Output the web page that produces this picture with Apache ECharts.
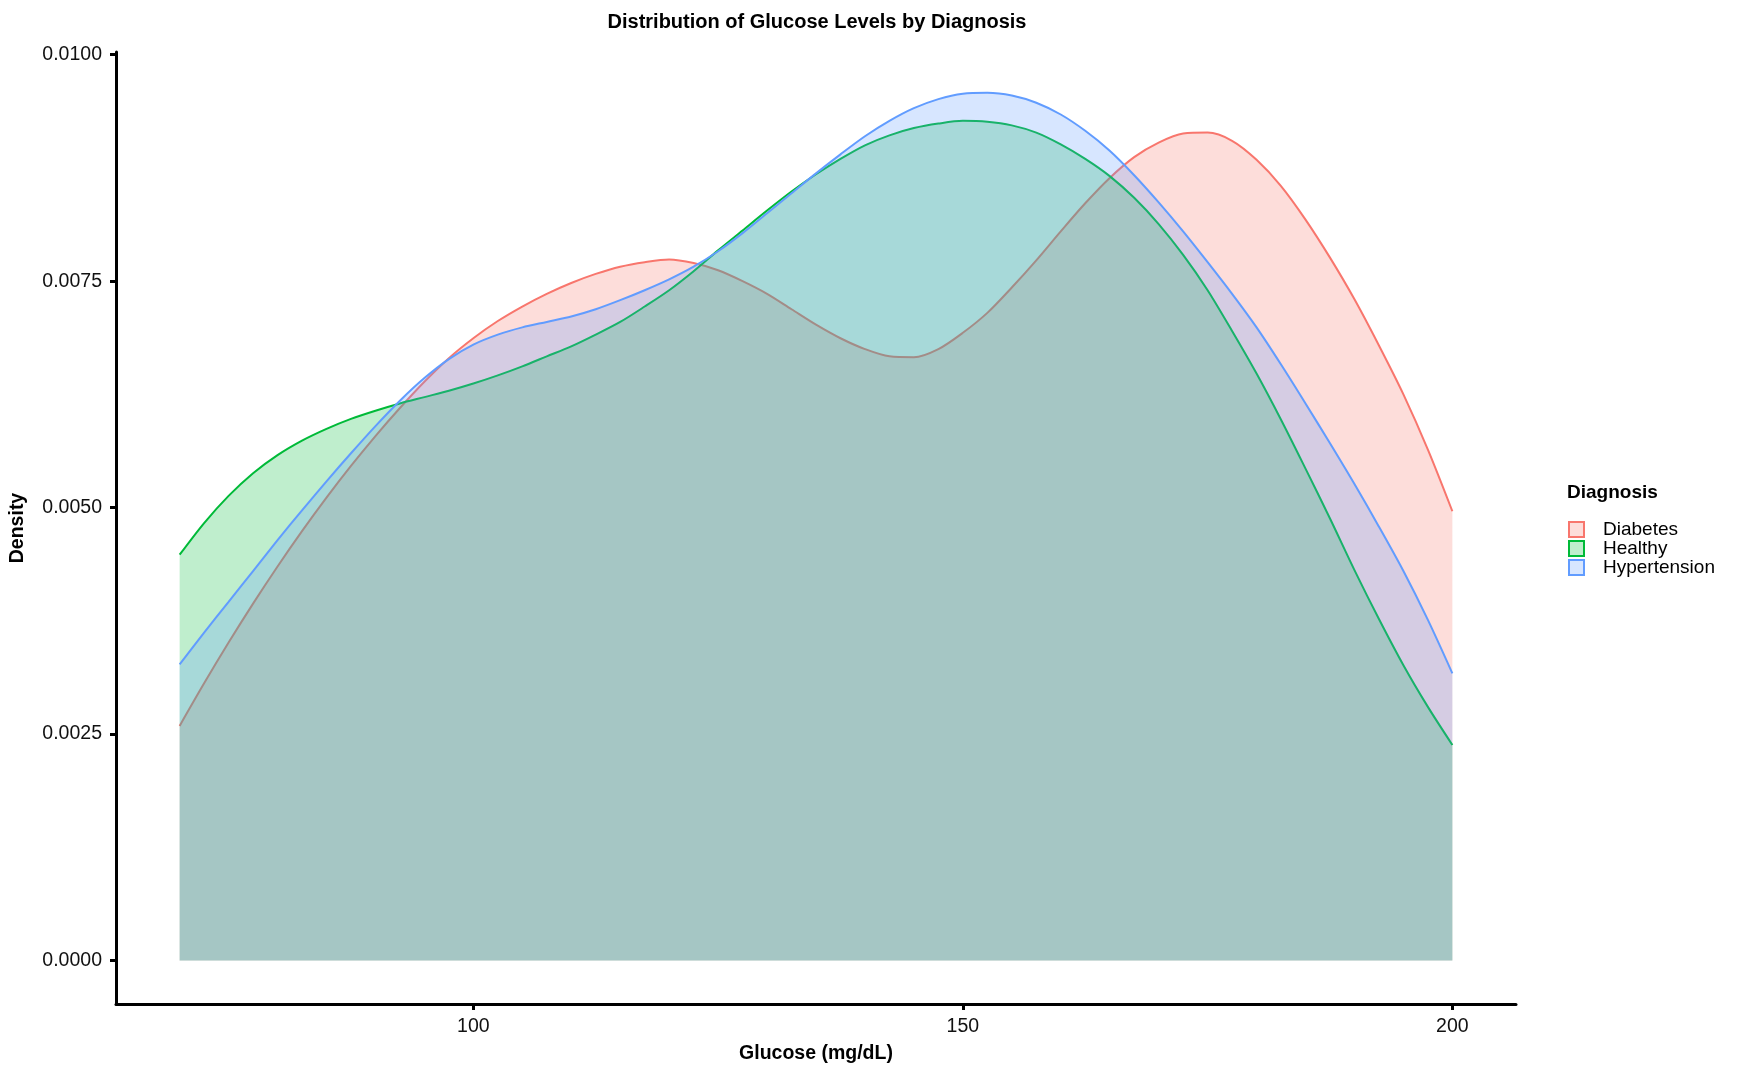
<!DOCTYPE html>
<html>
<head>
<meta charset="utf-8">
<script src="https://cdn.jsdelivr.net/npm/echarts@6/dist/echarts.min.js"></script>
<style>
  html, body { margin: 0; padding: 0; background: #fff; }
  #chart { width: 1747px; height: 1080px; }
</style>
</head>
<body>
<div id="chart"></div>
<script>
const glucose = [70, 72.5, 75, 77.5, 80, 82.5, 85, 87.5, 90, 92.5, 95, 97.5, 100, 102.5, 105, 107.5,
                 110, 112.5, 115, 117.5, 120, 122.5, 125, 127.5, 130, 132.5, 135, 137.5, 140, 142.5,
                 145, 147.5, 150, 152.5, 155, 157.5, 160, 162.5, 165, 167.5, 170, 172.5, 175, 177.5,
                 180, 182.5, 185, 187.5, 190, 192.5, 195, 197.5, 200]

const diabetes = [0.00259, 0.00306, 0.00351, 0.00394, 0.00435, 0.00474, 0.00511, 0.00546, 0.00579,
                  0.00610, 0.00639, 0.00665, 0.00687, 0.00706, 0.00722, 0.00736, 0.00748, 0.00758,
                  0.00766, 0.00771, 0.00774, 0.00770, 0.00762, 0.00750, 0.00736, 0.00719, 0.00702,
                  0.00687, 0.00675, 0.00667, 0.00666, 0.00675, 0.00693, 0.00715, 0.00743, 0.00773,
                  0.00805, 0.00836, 0.00864, 0.00887, 0.00903, 0.00913, 0.00914, 0.00905, 0.00884,
                  0.00855, 0.00818, 0.00776, 0.00730, 0.00679, 0.00625, 0.00564, 0.00496]

const healthy = [0.00448, 0.00483, 0.00513, 0.00538, 0.00558, 0.00574, 0.00587, 0.00598, 0.00607,
                 0.00615, 0.00622, 0.00629, 0.00637, 0.00646, 0.00656, 0.00667, 0.00678, 0.00691,
                 0.00705, 0.00722, 0.00740, 0.00761, 0.00784, 0.00806, 0.00828, 0.00849, 0.00868,
                 0.00885, 0.00900, 0.00911, 0.00919, 0.00924, 0.00927, 0.00926, 0.00922, 0.00914,
                 0.00901, 0.00885, 0.00866, 0.00842, 0.00813, 0.00779, 0.00740, 0.00695, 0.00648,
                 0.00597, 0.00543, 0.00488, 0.00431, 0.00377, 0.00326, 0.00280, 0.00238]

const hypertension = [0.00327, 0.00362, 0.00396, 0.00430, 0.00464, 0.00497, 0.00529, 0.00560, 0.00590,
                      0.00618, 0.00643, 0.00664, 0.00680, 0.00691, 0.00699, 0.00705, 0.00711, 0.00719,
                      0.00729, 0.00740, 0.00752, 0.00766, 0.00783, 0.00803, 0.00825, 0.00847, 0.00869,
                      0.00890, 0.00910, 0.00927, 0.00941, 0.00951, 0.00957, 0.00958, 0.00955, 0.00947,
                      0.00934, 0.00916, 0.00894, 0.00867, 0.00837, 0.00805, 0.00771, 0.00736, 0.00699,
                      0.00658, 0.00615, 0.00571, 0.00526, 0.00479, 0.00430, 0.00376, 0.00317]

const groups = ['Diabetes', 'Healthy', 'Hypertension']
const xTicks = [100, 150, 200]
const yTicks = [0, 0.0025, 0.005, 0.0075, 0.01]

const colors = ['#F8766D', '#00BA38', '#619CFF']
const fills = ['rgba(248,118,109,0.25)', 'rgba(0,186,56,0.25)', 'rgba(97,156,255,0.25)']
const FONT = "'Liberation Sans', Arial, sans-serif"

const pairs = (ys) => glucose.map((x, i) => [x, ys[i]])
const values = [diabetes, healthy, hypertension]

let chart = echarts.init(document.getElementById('chart'))

chart.setOption({
    animation: false,
    backgroundColor: '#fff',
    textStyle: { fontFamily: FONT },
    title: [{
        text: 'Distribution of Glucose Levels by Diagnosis',
        left: 812,
        top: 7,
        textAlign: 'center',
        textStyle: { fontFamily: FONT, fontSize: 20, fontWeight: 'bold', color: '#000' }
    }, {
        text: 'Diagnosis',
        left: 1562,
        top: 478,
        textStyle: { fontFamily: FONT, fontSize: 19, fontWeight: 'bold', color: '#000' }
    }],
    legend: {
        orient: 'vertical',
        left: 1563,
        top: 515,
        icon: 'rect',
        itemWidth: 15,
        itemHeight: 15,
        itemGap: 0,
        selectedMode: false,
        textStyle: { fontFamily: FONT, fontSize: 19, color: '#000', lineHeight: 15, padding: [0, 0, 0, 14] },
        data: groups.map((g, i) => ({
            name: g,
            itemStyle: { color: fills[i], borderColor: colors[i], borderWidth: 2 }
        }))
    },
    grid: { left: 116, right: 231, top: 52, bottom: 76, containLabel: false },
    xAxis: {
        type: 'value',
        min: 63.5,
        max: 206.5,
        name: 'Glucose (mg/dL)',
        nameLocation: 'middle',
        nameGap: 40,
        nameTextStyle: { fontFamily: FONT, fontSize: 19.5, fontWeight: 'bold', color: '#000' },
        axisLine: { show: true, onZero: false, lineStyle: { color: '#000', width: 3 } },
        axisTick: { show: true, length: 6, customValues: xTicks, lineStyle: { color: '#000', width: 3 } },
        axisLabel: { customValues: xTicks, margin: 13, fontFamily: FONT, fontSize: 19.5, color: '#111' },
        splitLine: { show: false }
    },
    yAxis: {
        type: 'value',
        min: -0.00048,
        max: 0.01003,
        name: 'Density',
        nameLocation: 'middle',
        nameGap: 88,
        nameTextStyle: { fontFamily: FONT, fontSize: 19.5, fontWeight: 'bold', color: '#000' },
        axisLine: { show: true, onZero: false, lineStyle: { color: '#000', width: 3 } },
        axisTick: { show: true, length: 6, customValues: yTicks, lineStyle: { color: '#000', width: 3 } },
        axisLabel: {
            customValues: yTicks,
            margin: 14,
            fontFamily: FONT,
            fontSize: 19.5,
            color: '#111',
            formatter: (v) => v.toFixed(4)
        },
        splitLine: { show: false }
    },
    // each group gets its own z so a later fill covers the earlier outline, as in the original
    series: groups.map((g, i) => ({
        name: g,
        type: 'line',
        z: 2 + i,
        data: pairs(values[i]),
        smooth: 0.3,
        showSymbol: false,
        symbol: 'none',
        lineStyle: { color: colors[i], width: 2 },
        itemStyle: { color: colors[i] },
        areaStyle: { color: fills[i], opacity: 1 },
        emphasis: { disabled: true }
    }))
})
</script>
</body>
</html>
